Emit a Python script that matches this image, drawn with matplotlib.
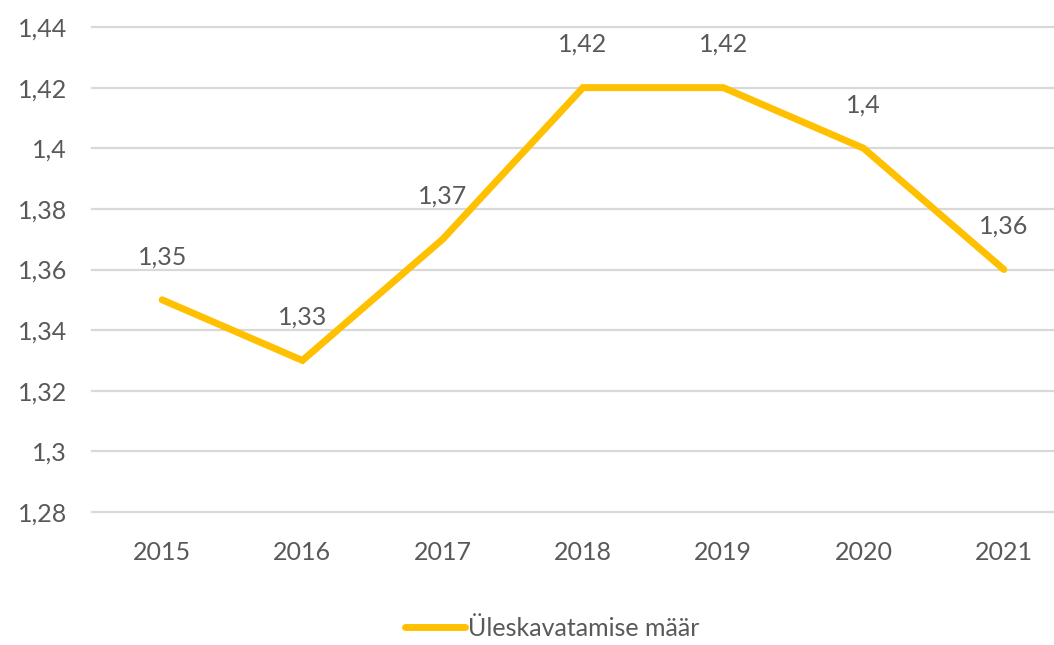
import matplotlib
matplotlib.use("Agg")
import matplotlib.pyplot as plt
from matplotlib.ticker import FixedLocator, FuncFormatter

years = ["2015", "2016", "2017", "2018", "2019", "2020", "2021"]
values = [1.35, 1.33, 1.37, 1.42, 1.42, 1.40, 1.36]
yticks = [1.28, 1.30, 1.32, 1.34, 1.36, 1.38, 1.40, 1.42, 1.44]
series_name = "Üleskavatamise määr"

plt.rcParams['font.family'] = ['Lato', 'DejaVu Sans']

W, H = 1054, 645
fig = plt.figure(figsize=(W / 100, H / 100), dpi=100)
left, right, top, bottom = 92, 1074, 27, 512
ax = fig.add_axes([left / W, 1 - bottom / H, (right - left) / W, (bottom - top) / H])

color = "#FFC000"
text_color = "#595959"
fs = 18

x = list(range(len(years)))
line, = ax.plot(x, values, color=color, lw=5.0, solid_joinstyle="miter",
                solid_capstyle="round", label=series_name)

for xi, v in zip(x, values):
    lbl = f"{v:g}".replace(".", ",")
    ax.annotate(lbl, (xi, v), xytext=(0, 31), textcoords="offset points",
                ha="center", va="center", fontsize=fs, color=text_color)

ax.set_xlim(-0.5, len(years) - 0.5)
ax.set_ylim(1.28, 1.44)
ax.set_xticks(x)
ax.set_xticklabels(years)
ax.yaxis.set_major_locator(FixedLocator(yticks))
ax.yaxis.set_major_formatter(FuncFormatter(lambda v, p: f"{v:g}".replace(".", ",")))
ax.grid(axis="y", color="#d9d9d9", lw=1.6)
for gl in ax.get_ygridlines():
    gl.set_clip_on(False)
ax.set_axisbelow(True)
for s in ax.spines.values():
    s.set_visible(False)
ax.tick_params(axis="both", length=0, labelsize=fs, labelcolor=text_color)
ax.tick_params(axis="x", pad=21)
ax.tick_params(axis="y", pad=18)

fig.legend(handles=[line], labels=[series_name], loc="center",
           bbox_to_anchor=(552 / W, 1 - 628 / H), frameon=False, fontsize=fs,
           labelcolor=text_color, handlelength=2.4, handletextpad=0.1)

fig.savefig("out.png", dpi=100)
